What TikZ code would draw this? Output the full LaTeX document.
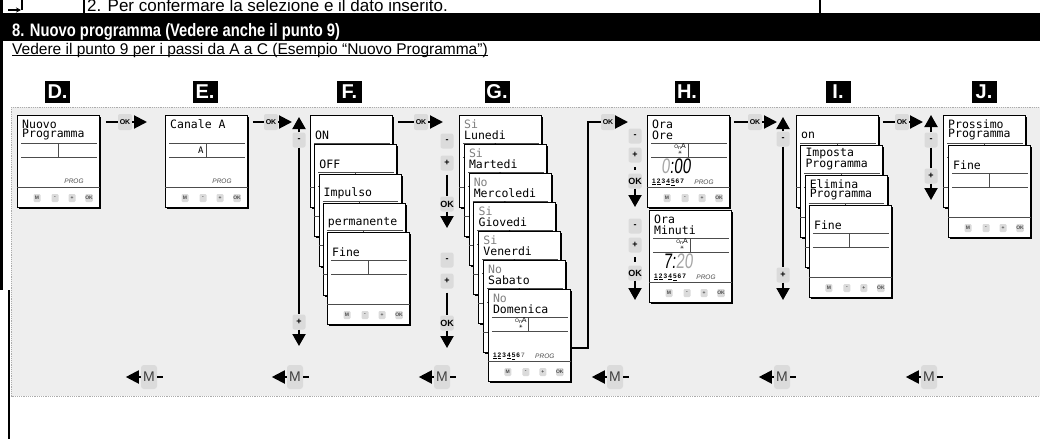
\documentclass[tikz,border=0pt]{standalone}
\usepackage{fontspec}
\setmainfont{Liberation Sans}
\newfontfamily\lcdfont{DejaVu Sans Mono}
\newfontfamily\titlefont[FakeStretch=0.82]{Liberation Sans Bold}
\newfontfamily\segfont[FakeStretch=0.72,FakeSlant=0.1]{Liberation Sans}
\newfontfamily\symfont{DejaVu Sans}
\usetikzlibrary{arrows.meta,shadows}

\tikzset{
  card/.style={draw, line width=0.8pt, fill=white, anchor=north west, inner sep=0pt,
    minimum width=82pt, minimum height=92pt,
    general shadow={fill=black, shadow xshift=1.6pt, shadow yshift=-1.6pt}},
  lcd/.style={anchor=west, inner sep=0pt, font=\lcdfont\fontsize{11.5}{11.5}\selectfont},
  lcdrule/.style={line width=0.9pt, black!70},
  key/.style={fill=gray!28, rounded corners=1.2pt, minimum width=7pt, minimum height=8pt,
    inner sep=0pt, text=black!70, font=\fontsize{5}{5}\selectfont\bfseries},
  prog/.style={inner sep=0pt, text=black!70, font=\fontsize{6.5}{6.5}\selectfont\itshape},
  wire/.style={line width=2pt},
  tip/.style={-{Triangle[length=13pt,width=13pt]}},
  vtip/.style={-{Triangle[length=12pt,width=13pt]}},
  okbadge/.style={fill=gray!28, rounded corners=2pt, minimum width=14pt, minimum height=16pt,
    inner sep=0pt, font=\fontsize{7}{7}\selectfont\bfseries},
  navkey/.style={fill=gray!28, rounded corners=2pt, minimum width=13pt, minimum height=15pt,
    inner sep=0pt, font=\fontsize{9}{9}\selectfont\bfseries},
  mkey/.style={fill=gray!28, rounded corners=3pt, minimum width=16pt, minimum height=24pt,
    inner sep=0pt, text=black!75, font=\fontsize{14}{14}\selectfont},
  steplabel/.style={fill=black, text=white, minimum width=25pt, minimum height=22pt,
    inner sep=0pt, font=\fontsize{20}{20}\selectfont\bfseries},
  panel/.style={fill=gray!13, draw=gray!65, line width=0.8pt, dash pattern=on 1.2pt off 1pt}
}

% one display card: frame, key separator and keys
\newcommand{\lcdcard}[2]{%
  \node[card] (#1) at (#2) {};
  \draw[lcdrule] ([yshift=-72pt]#1.north west) -- ([yshift=-72pt]#1.north east);
  \foreach \lbl/\dx in {M/20,-/38,+/55,OK/72}
    \node[key] (#1-key\dx) at ([xshift=\dx,yshift=-83]#1.north west) {\lbl};
}
% value field with divider
\newcommand{\lcdfield}[1]{%
  \draw[lcdrule] ([xshift=4,yshift=-28]#1.north west) -- ([xshift=-3,yshift=-28]#1.north east);
  \draw[lcdrule] ([xshift=4,yshift=-42]#1.north west) -- ([xshift=-3,yshift=-42]#1.north east);
  \draw[lcdrule] ([xshift=41,yshift=-28]#1.north west) -- ([xshift=41,yshift=-42]#1.north west);
}
% two text lines
\newcommand{\lcdlines}[4][black]{%
  \node[lcd,text=#1] (#2-top) at ([xshift=5,yshift=-9]#2.north west) {#3};
  \node[lcd] (#2-bot) at ([xshift=5,yshift=-20]#2.north west) {#4};
}
% channel symbol
\newcommand{\chanA}[1]{%
  \node[inner sep=0pt, font=\fontsize{7}{7}\selectfont] (#1-ch) at ([xshift=33,yshift=-32]#1.north west)
    {{\fontsize{5}{5}\selectfont O\raisebox{-1pt}{n}}A};
  \node[inner sep=0pt, font=\symfont\fontsize{5}{5}\selectfont] (#1-sun) at ([xshift=33,yshift=-38]#1.north west) {☀};
}
% week days and PROG
\newcommand{\weekrow}[2]{%
  \node[anchor=west, inner sep=0pt, font=\fontsize{6.5}{6.5}\selectfont\bfseries] (#1-days) at ([xshift=5,yshift=-67]#1.north west) {#2};
  \node[prog] (#1-prog) at ([xshift=57,yshift=-67]#1.north west) {PROG};
}

\begin{document}
\begin{tikzpicture}[x=1pt, y=-1pt]
\useasboundingbox (0,0) rectangle (1040,439);

% header
\draw[line width=2.5pt] (1.5,0) -- (1.5,290);
\draw[line width=1.5pt] (9,290) -- (9,439);
\draw[line width=1.2pt] (84,0) -- (84,13);
\draw[line width=1.2pt] (820,0) -- (820,13);
\draw[line width=1.1pt, -{Stealth[length=5pt,width=5pt]}] (8,10) -- (21,10);
\draw[line width=1.1pt] (22,0) -- (22,10);
\begin{scope}
  \clip (85,0) rectangle (819,13);
  \node[anchor=base west, inner sep=0pt, font=\fontsize{17}{17}\selectfont] (prevrow) at (87,11)
    {2. Per confermare la selezione e il dato inserito.};
\end{scope}
\fill (0,13) rectangle (1040,41);
\node[anchor=base west, inner sep=0pt, text=white, font=\titlefont\fontsize{18}{18}\selectfont] (title) at (12,36)
  {8. Nuovo programma (Vedere anche il punto 9)};
\node[anchor=base west, inner sep=0pt, font=\fontsize{15.5}{15.5}\selectfont] (subtitle) at (12,54)
  {Vedere il punto 9 per i passi da A a C (Esempio “Nuovo Programma”)};
\draw[line width=0.8pt] ([yshift=-1.5pt]subtitle.base west) -- ([yshift=-1.5pt]subtitle.base east);

\draw[panel] (11,107) rectangle (1048,396);

\foreach \l/\x in {D/57.5,E/205,F/349.5,G/497,H/687,I/838,J/984}
  \node[steplabel] (lab\l) at (\x,92) {\l.};

% D, E
\lcdcard{d}{17,115}
\lcdfield{d}
\lcdlines{d}{Nuovo}{Programma}
\node[prog] (d-prog) at ([xshift=57,yshift=-66]d.north west) {PROG};

\lcdcard{e}{165,115}
\lcdfield{e}
\lcdlines{e}{Canale A}{}
\node[lcd, font=\lcdfont\fontsize{9}{9}\selectfont] (e-val) at ([xshift=33,yshift=-35]e.north west) {A};
\node[prog] (e-prog) at ([xshift=57,yshift=-66]e.north west) {PROG};

% F
\foreach \txt [count=\i from 0] in {ON,OFF,Impulso,permanente,Fine} {
  \lcdcard{f\i}{{310+4.25*\i},{115+29.25*\i}}
  \lcdfield{f\i}
  \lcdlines{f\i}{}{\txt}
}

% G
\foreach \yn/\day [count=\i from 0] in {Si/Lunedi,Si/Martedi,No/Mercoledi,Si/Giovedi,Si/Venerdi,No/Sabato,No/Domenica} {
  \lcdcard{g\i}{{459+4.8*\i},{115+29*\i}}
  \lcdfield{g\i}
  \lcdlines[gray]{g\i}{\yn}{\day}
  \chanA{g\i}
  \weekrow{g\i}{\underline{1}\,\underline{2}\,3\,\underline{4}\,\underline{5}\,6\,{\color{gray}7}}
}

% H
\lcdcard{h0}{647,115}
\lcdfield{h0}
\lcdlines{h0}{Ora}{Ore}
\chanA{h0}
\node[inner sep=0pt, font=\segfont\fontsize{21}{21}\selectfont] (h0-time) at ([xshift=29,yshift=-51]h0.north west)
  {\textcolor{gray!70}{0}:00};
\weekrow{h0}{\underline{1}\,\underline{2}\,3\,\underline{4}\,\underline{5}\,6\,7}

\lcdcard{h1}{649,210}
\lcdfield{h1}
\lcdlines{h1}{Ora}{Minuti}
\chanA{h1}
\node[inner sep=0pt, font=\segfont\fontsize{21}{21}\selectfont] (h1-time) at ([xshift=29,yshift=-51]h1.north west)
  {7:\textcolor{gray!70}{20}};
\weekrow{h1}{\underline{1}\,\underline{2}\,3\,\underline{4}\,\underline{5}\,6\,7}

% I
\foreach \la/\lb [count=\i from 0] in {/on,Imposta/Programma,Elimina/Programma,/Fine} {
  \lcdcard{i\i}{{796+4.3*\i},{115+30*\i}}
  \lcdfield{i\i}
  \lcdlines{i\i}{\la}{\lb}
}

% J
\lcdcard{j0}{943,115}
\lcdfield{j0}
\lcdlines{j0}{Prossimo}{Programma}
\lcdcard{j1}{948,145}
\lcdfield{j1}
\lcdlines{j1}{}{Fine}

% OK steps between columns
\node[okbadge] (okde) at (125,122) {OK};
\draw[wire] ([xshift=6,yshift=-7]d.north east) -- (okde.west);
\draw[wire,tip] (okde.east) -- ([xshift=-18,yshift=-7]e.north west);

\node[okbadge] (okef) at (271,122) {OK};
\draw[wire] ([xshift=5,yshift=-7]e.north east) -- (okef.west);
\draw[wire,tip] (okef.east) -- ([xshift=-18,yshift=-7]f0.north west);

\node[okbadge] (okfg) at (421,122) {OK};
\draw[wire] ([xshift=5,yshift=-7]f0.north east) -- (okfg.west);
\draw[wire,tip] (okfg.east) -- ([xshift=-16,yshift=-7]g0.north west);

\node[okbadge] (okgh) at (608,122) {OK};
\coordinate (ghbend) at (588,122);
\draw[wire] ([xshift=1,yshift=-59]g6.north east) -| (ghbend) -- (okgh.west);
\draw[wire,tip] (okgh.east) -- ([xshift=-19,yshift=-7]h0.north west);

\node[okbadge] (okhi) at (755,122) {OK};
\draw[wire] ([xshift=4,yshift=-7]h0.north east) -- (okhi.west);
\draw[wire,tip] (okhi.east) -- ([xshift=-19,yshift=-7]i0.north west);

\node[okbadge] (okij) at (902,122) {OK};
\draw[wire] ([xshift=4,yshift=-7]i0.north east) -- (okij.west);
\draw[wire,tip] (okij.east) -- ([xshift=-20,yshift=-7]j0.north west);

% scrolling with - and +
\foreach \c/\x/\ytop/\ymin/\yplus/\ybot in {f/299/117/140/322/346, i/783/117/139/275/300, j/931/115/140/176/200} {
  \node[navkey] (\c-minus) at (\x,\ymin) {-};
  \node[navkey] (\c-plus) at (\x,\yplus) {+};
  \coordinate (\c-up) at (\x,\ytop);
  \coordinate (\c-down) at (\x,\ybot);
  \draw[wire,vtip] (\c-minus.north) -- (\c-up);
  \draw[wire] (\c-minus) -- (\c-plus);
  \draw[wire,vtip] (\c-plus.south) -- (\c-down);
}

% G: set each day
\foreach \n/\ymin/\yplus/\yok/\ybot in {1/141/163/204/228, 2/260/281/323/348} {
  \node[navkey] (g-minus\n) at (447,\ymin) {-};
  \node[navkey] (g-plus\n) at (447,\yplus) {+};
  \node[navkey] (g-ok\n) at (447,\yok) {OK};
  \coordinate (g-down\n) at (447,\ybot);
  \draw[wire, shorten <=4pt] (g-plus\n) -- (g-ok\n);
  \draw[wire,vtip] (g-ok\n.south) -- (g-down\n);
}

% H: hours and minutes
\foreach \n/\ymin/\yplus/\yok/\ybot in {1/136/155/181/207, 2/226/245/273/300} {
  \node[navkey] (h-minus\n) at (635,\ymin) {-};
  \node[navkey] (h-plus\n) at (635,\yplus) {+};
  \node[navkey] (h-ok\n) at (635,\yok) {OK};
  \coordinate (h-down\n) at (635,\ybot);
  \draw[wire, shorten <=4.5pt, shorten >=3.5pt] (h-plus\n) -- (h-ok\n);
  \draw[wire,vtip] (h-ok\n.south) -- (h-down\n);
}

% back with M
\foreach \mx [count=\n] in {149,295,442,615,782,929} {
  \node[mkey] (back\n) at (\mx,377) {M};
  \draw[wire,tip] (back\n.west) -- ([xshift=-15pt]back\n.west);
  \draw[wire] (back\n.east) -- ([xshift=6pt]back\n.east);
}
\end{tikzpicture}
\end{document}
